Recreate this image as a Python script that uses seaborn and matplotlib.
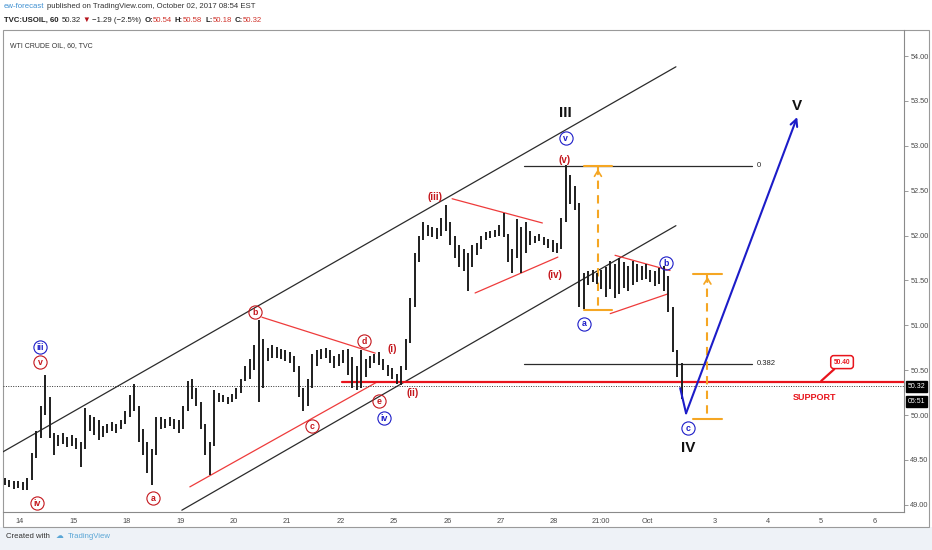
import numpy as np
import matplotlib
matplotlib.use("Agg")
import matplotlib.pyplot as plt
import matplotlib.transforms as mtransforms
from matplotlib.patches import Rectangle
import seaborn as sns

# -------------------------------------------
# Price bars (2h)
# x unit = trading day counted from Sep 14
# -------------------------------------------
bar_high = [
    49.30, 49.28, 49.27, 49.26, 49.25, 49.30, 49.58, 49.82, 50.10, 50.45,
    50.20, 49.80, 49.78, 49.80, 49.76, 49.78, 49.74, 49.70, 50.08, 50.00,
    49.98, 49.95, 49.88, 49.90, 49.92, 49.90, 49.95, 50.05, 50.22, 50.35,
    50.10, 49.85, 49.70, 49.62, 49.98, 49.98, 49.96, 49.98, 49.96, 49.95,
    50.10, 50.38, 50.40, 50.30, 50.15, 49.90, 49.70, 50.28, 50.25, 50.22,
    50.20, 50.24, 50.30, 50.40, 50.55, 50.62, 50.78, 51.06, 50.85, 50.75,
    50.78, 50.76, 50.74, 50.72, 50.70, 50.66, 50.55, 50.30, 50.40, 50.68,
    50.72, 50.74, 50.75, 50.72, 50.66, 50.68, 50.72, 50.74, 50.65, 50.55,
    50.72, 50.62, 50.66, 50.68, 50.70, 50.62, 50.56, 50.52, 50.46, 50.55,
    50.85, 51.30, 51.80, 52.00, 52.15, 52.12, 52.10, 52.08, 52.20, 52.34,
    52.15, 52.00, 51.90, 51.85, 51.80, 51.90, 51.92, 52.00, 52.04, 52.05,
    52.06, 52.12, 52.25, 52.02, 51.85, 52.18, 52.10, 52.15, 52.05, 52.00,
    52.02, 51.98, 51.96, 51.95, 51.92, 52.20, 52.79, 52.68, 52.55, 52.36,
    51.58, 51.60, 51.62, 51.58, 51.62, 51.65, 51.72, 51.68, 51.75, 51.70,
    51.66, 51.72, 51.68, 51.66, 51.68, 51.62, 51.60, 51.64, 51.66, 51.55,
    51.20, 50.72, 50.58,
]
bar_low = [
    49.22, 49.20, 49.18, 49.19, 49.16, 49.17, 49.28, 49.52, 49.75, 50.00,
    49.75, 49.56, 49.65, 49.68, 49.64, 49.66, 49.62, 49.42, 49.62, 49.82,
    49.78, 49.72, 49.76, 49.80, 49.82, 49.80, 49.84, 49.90, 49.98, 50.05,
    49.70, 49.55, 49.35, 49.22, 49.55, 49.85, 49.86, 49.88, 49.84, 49.80,
    49.85, 50.05, 50.18, 50.10, 49.85, 49.55, 49.33, 49.65, 50.15, 50.14,
    50.12, 50.14, 50.18, 50.25, 50.38, 50.40, 50.50, 50.15, 50.30, 50.60,
    50.64, 50.64, 50.62, 50.60, 50.58, 50.48, 50.20, 50.05, 50.10, 50.30,
    50.55, 50.62, 50.64, 50.58, 50.52, 50.55, 50.58, 50.45, 50.30, 50.28,
    50.30, 50.42, 50.52, 50.58, 50.56, 50.50, 50.44, 50.40, 50.35, 50.34,
    50.50, 50.80, 51.20, 51.70, 51.95, 52.00, 51.98, 51.96, 52.00, 52.05,
    51.90, 51.75, 51.65, 51.60, 51.38, 51.65, 51.78, 51.85, 51.95, 51.97,
    51.98, 52.00, 51.98, 51.70, 51.58, 51.75, 51.58, 51.80, 51.90, 51.92,
    51.94, 51.90, 51.86, 51.82, 51.80, 51.85, 52.15, 52.35, 52.28, 51.20,
    51.18, 51.45, 51.48, 51.46, 51.40, 51.32, 51.40, 51.30, 51.35, 51.42,
    51.38, 51.45, 51.48, 51.50, 51.52, 51.48, 51.44, 51.46, 51.38, 51.15,
    50.70, 50.42, 50.18,
]
bar_start = -0.28
bar_step = 1 / 12

day_ticks = [0, 1, 2, 3, 4, 5, 6, 7, 8, 9, 10, 10.88, 11.74, 13, 14, 15, 16]
day_labels = ["14", "15", "18", "19", "20", "21", "22", "25", "26", "27",
              "28", "21:00", "Oct", "3", "4", "5", "6"]
price_ticks = [49.0, 49.5, 50.0, 50.5, 51.0, 51.5, 52.0, 52.5, 53.0, 53.5, 54.0]

last_price = 50.32
countdown = "05:51"
support_level = 50.37
fib_levels = [52.78, 50.57]
fib_labels = ["0", "0.382"]

# -------------------------------------------
# Drawings (day, price)
# -------------------------------------------
channel_lines = [
    ([-0.32, 12.28], [49.59, 53.88]),
    ([3.03, 12.28], [48.94, 52.11]),
]
red_lines = [
    ([4.53, 6.65], [51.09, 50.69]),   # b - d
    ([3.18, 6.69], [49.20, 50.37]),   # a - c - e
    ([8.09, 9.78], [52.41, 52.14]),   # (iv) triangle top
    ([8.52, 10.07], [51.36, 51.76]),  # (iv) triangle bottom
    ([11.14, 12.17], [51.78, 51.61]), # b triangle top
    ([11.05, 12.13], [51.13, 51.35]), # b triangle bottom
]
fib_x = [9.44, 13.71]
measures = [  # x, top, bottom, cap half width
    (10.82, 52.77, 51.17, 0.27),
    (12.87, 51.57, 49.96, 0.27),
]
blue_path_x = [12.36, 12.47, 14.55]
blue_path_y = [50.30, 50.02, 53.32]

red_circles = [("v", 0.38, 50.59), ("iv", 0.32, 49.02), ("a", 2.49, 49.08),
               ("b", 4.40, 51.15), ("c", 5.47, 49.88), ("d", 6.44, 50.82),
               ("e", 6.72, 50.16)]
blue_circles = [("iii", 0.37, 50.76), ("iv", 6.82, 49.97), ("v", 10.22, 53.09),
                ("a", 10.56, 51.02), ("b", 12.10, 51.69), ("c", 12.51, 49.86)]
red_tags = [("(i)", 6.97, 50.74), ("(ii)", 7.36, 50.25), ("(iii)", 7.77, 52.43),
            ("(iv)", 10.02, 51.56), ("(v)", 10.19, 52.84)]
big_tags = [("III", 10.21, 53.36), ("IV", 12.51, 49.63), ("V", 14.55, 53.44)]

RED = "#c4161c"
BLUE = "#1c1cc8"
ORANGE = "#f5a623"

# -------------------------------------------
# Figure
# -------------------------------------------
sns.set_style("white")
plt.rcParams['font.family'] = ['Liberation Sans', 'DejaVu Sans']

W, H = 932, 550
fig = plt.figure(figsize=(W / 100, H / 100), dpi=100, facecolor="white")

bg = fig.add_axes([0, 0, 1, 1], zorder=-5)
bg.set_xlim(0, 1)
bg.set_ylim(0, 1)
bg.axis("off")
bg.add_patch(Rectangle((0, 0), 1, 23 / H, fc="#eef2f7", ec="none"))
bg.add_patch(Rectangle((3 / W, 1 - 527 / H), 926 / W, 497 / H,
                       fc="white", ec="#9a9a9a", lw=0.8))

ax = fig.add_axes([3 / W, 1 - 512 / H, 901 / W, 482 / H])
ax.set_facecolor("none")

x = bar_start + np.arange(len(bar_high)) * bar_step
ax.vlines(x, bar_low, bar_high, color="#1e1e1e", lw=1.4, zorder=3)

for xs, ys in channel_lines:
    ax.plot(xs, ys, color="#2b2b2b", lw=0.9, zorder=2)
for xs, ys in red_lines:
    ax.plot(xs, ys, color="#ee3b3b", lw=0.9, zorder=2)

ax.axhline(last_price, color="#333333", lw=0.7, ls=(0, (1, 1.5)), zorder=2)
ax.plot([6.03, 16.6], [support_level, support_level], color="#e8141c", lw=1.6, zorder=2)

for lvl, lab in zip(fib_levels, fib_labels):
    ax.plot(fib_x, [lvl, lvl], color="#2b2b2b", lw=0.9, zorder=2)
    ax.text(fib_x[1] + 0.09, lvl, lab, fontsize=5.5, color="#222222",
            ha="left", va="center")

for mx, top, bot, hw in measures:
    ax.plot([mx, mx], [top, bot], color=ORANGE, lw=1.5, ls=(0, (4, 3)), zorder=2)
    ax.plot([mx - hw, mx + hw], [top, top], color=ORANGE, lw=1.5, zorder=2)
    ax.plot([mx - hw, mx + hw], [bot, bot], color=ORANGE, lw=1.5, zorder=2)
    ax.annotate("", xy=(mx, top), xytext=(mx, top - 0.12),
                arrowprops=dict(arrowstyle="->,head_width=0.25,head_length=0.4",
                                color=ORANGE, lw=1.2))

ax.plot(blue_path_x[:2], blue_path_y[:2], color=BLUE, lw=1.5, zorder=4)
ax.annotate("", xy=(blue_path_x[2], blue_path_y[2]),
            xytext=(blue_path_x[1], blue_path_y[1]),
            arrowprops=dict(arrowstyle="->,head_width=0.25,head_length=0.5",
                            color=BLUE, lw=1.5, shrinkA=0, shrinkB=0), zorder=4)

for group, col in ((red_circles, RED), (blue_circles, BLUE)):
    for lab, cx, cy in group:
        ax.plot(cx, cy, "o", ms=9.5, mfc="none", mec=col, mew=0.8, zorder=5)
        ax.text(cx, cy - 0.005, lab, color=col, fontsize=6.3, ha="center",
                va="center", weight="bold", zorder=6)
for lab, cx, cy in red_tags:
    ax.text(cx, cy, lab, color=RED, fontsize=7, ha="center", va="center",
            weight="bold", zorder=6)
for lab, cx, cy in big_tags:
    ax.text(cx, cy, lab, color="#111111", fontsize=11, ha="center", va="center",
            weight="bold", zorder=6)

ax.text(14.87, 50.20, "SUPPORT", color="#e8141c", fontsize=6.5, weight="bold",
        ha="center", va="center")
ax.annotate("50.40", xy=(15.0, support_level + 0.01), xytext=(15.39, 50.59),
            color="#e8141c", fontsize=4.8, weight="bold", ha="center", va="center",
            bbox=dict(boxstyle="round,pad=0.45", fc="white", ec="#e8141c", lw=1.1),
            arrowprops=dict(arrowstyle="-", color="#e8141c", lw=1.6,
                            shrinkA=0, shrinkB=0))

ax.text(0.008, 0.975, "WTI CRUDE OIL, 60, TVC", transform=ax.transAxes,
        fontsize=5, color="#333333", ha="left", va="top")

# axes
ax.set_xlim(-0.318, 16.55)
ax.set_ylim(48.92, 54.29)
ax.yaxis.tick_right()
ax.set_yticks(price_ticks)
ax.set_yticklabels([f"{p:.2f}" for p in price_ticks])
ax.set_xticks(day_ticks)
ax.set_xticklabels(day_labels)
ax.tick_params(axis="both", direction="out", length=3, width=0.6, color="#8a8a8a",
               labelsize=5.3, labelcolor="#4a4a4a", pad=1.5)
ax.tick_params(axis="x", length=2.5, pad=1.5)
for side in ("left", "top"):
    ax.spines[side].set_visible(False)
for side in ("right", "bottom"):
    ax.spines[side].set_color("#8a8a8a")
    ax.spines[side].set_linewidth(0.8)

blend = mtransforms.blended_transform_factory(ax.transAxes, ax.transData)
ax.text(1.004, last_price, f"{last_price:.2f}", transform=blend, fontsize=5,
        color="white", ha="left", va="center",
        bbox=dict(boxstyle="square,pad=0.3", fc="black", ec="black"))
ax.text(1.004, last_price - 0.165, countdown, transform=blend, fontsize=5,
        color="white", ha="left", va="center",
        bbox=dict(boxstyle="square,pad=0.3", fc="black", ec="black"))

# header
def chain(parts, x0, y0, size):
    prev = None
    for s, col, wt, gap in parts:
        if prev is None:
            prev = bg.text(x0, y0, s, color=col, weight=wt, fontsize=size,
                           ha="left", va="center")
        else:
            prev = bg.annotate(s, xy=(1, 0), xycoords=prev, xytext=(gap, 0),
                               textcoords="offset points", color=col, weight=wt,
                               fontsize=size, ha="left", va="bottom")

DARK = "#222222"
VAL = "#d0342c"
chain([("ew-forecast", "#3d8fd1", "normal", 0),
       ("published on TradingView.com, October 02, 2017 08:54 EST", "#333333", "normal", 1.5)],
      4 / W, 1 - 7 / H, 5.6)
chain([("TVC:USOIL, 60", DARK, "bold", 0), ("50.32", DARK, "normal", 2),
       ("▼", "#b5121b", "normal", 1.5), ("−1.29 (−2.5%)", DARK, "normal", 1.5),
       ("O:", DARK, "bold", 2), ("50.54", VAL, "normal", 0),
       ("H:", DARK, "bold", 2), ("50.58", VAL, "normal", 0),
       ("L:", DARK, "bold", 2), ("50.18", VAL, "normal", 0),
       ("C:", DARK, "bold", 2), ("50.32", VAL, "normal", 0)],
      4 / W, 1 - 20 / H, 5.6)

chain([("Created with", "#333333", "normal", 0),
       ("☁", "#5aa6d6", "normal", 4),
       ("TradingView", "#5aa6d6", "normal", 3)],
      6 / W, 1 - 537 / H, 5.6)

fig.savefig("out.png", dpi=100, facecolor=fig.get_facecolor())
